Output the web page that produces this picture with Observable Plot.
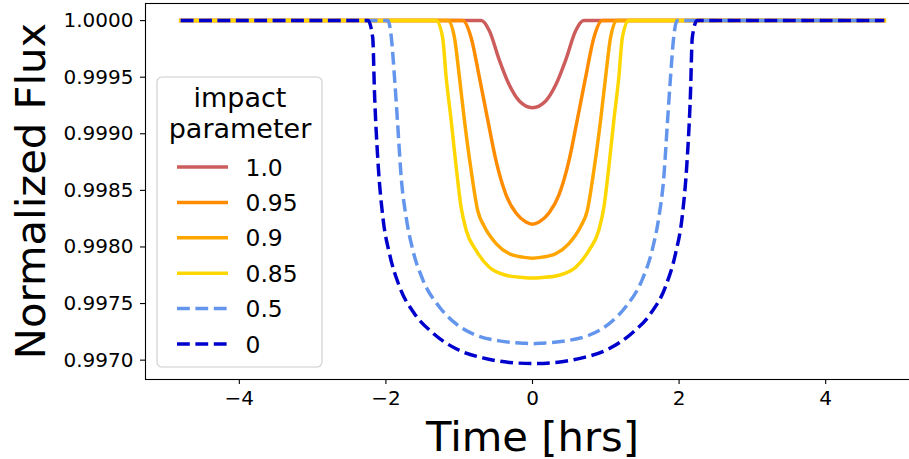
<!DOCTYPE html>
<html>
<head>
<meta charset="utf-8">
<script src="https://cdn.jsdelivr.net/npm/d3@7"></script>
<script src="https://cdn.jsdelivr.net/npm/@observablehq/plot@0.6"></script>
<style>
  html, body { margin: 0; padding: 0; background: #fff; overflow: hidden; }
  #wrap { position: relative; width: 909px; height: 459px; overflow: hidden; }
  #wrap svg { display: block; max-width: none !important; }
</style>
</head>
<body>
<div id="wrap"></div>
<script>
// ---- data ----
const seriesLabels = ["1.0", "0.95", "0.9", "0.85", "0.5", "0"];
const seriesColors = ["#CD5C5C", "#FF8C00", "#FFA500", "#FFD700", "#6495ED", "#0000CD"];
const seriesDashed = [false, false, false, false, true, true];

const b10_t = [-4.8, -0.70, -0.589, -0.452, -0.316, -0.180, 0, 0.180, 0.316, 0.452, 0.589, 0.70, 4.8];
const b10_f = [1, 1, 0.99991, 0.99965, 0.99943, 0.99929, 0.99923, 0.99929, 0.99943, 0.99965, 0.99991, 1, 1];

const b095_t = [-4.8, -0.951, -0.838, -0.725, -0.610, -0.497, -0.361, -0.225, -0.089, 0, 0.089, 0.225, 0.361, 0.497, 0.610, 0.725, 0.838, 0.951, 4.8];
const b095_f = [1, 1, 0.99985, 0.99950, 0.99912, 0.99876, 0.99846, 0.99830, 0.99822, 0.99820, 0.99822, 0.99830, 0.99846, 0.99876, 0.99912, 0.99950, 0.99985, 1, 1];

const b09_t = [-4.8, -1.155, -1.065, -0.997, -0.929, -0.838, -0.747, -0.657, -0.497, -0.316, -0.134, 0, 0.134, 0.316, 0.497, 0.657, 0.747, 0.838, 0.929, 0.997, 1.065, 1.155, 4.8];
const b09_f = [1, 1, 0.99985, 0.99950, 0.99912, 0.99868, 0.99832, 0.99818, 0.99803, 0.99794, 0.99791, 0.99790, 0.99791, 0.99794, 0.99803, 0.99818, 0.99832, 0.99868, 0.99912, 0.99950, 0.99985, 1, 1];

const b085_t = [-4.8, -1.315, -1.226, -1.178, -1.110, -1.042, -0.974, -0.906, -0.770, -0.589, -0.361, -0.134, 0, 0.134, 0.361, 0.589, 0.770, 0.906, 0.974, 1.042, 1.110, 1.178, 1.226, 1.315, 4.8];
const b085_f = [1, 1, 0.99985, 0.99950, 0.99912, 0.99871, 0.99835, 0.99815, 0.99797, 0.99782, 0.99775, 0.99773, 0.997725, 0.99773, 0.99775, 0.99782, 0.99797, 0.99815, 0.99835, 0.99871, 0.99912, 0.99950, 0.99985, 1, 1];

const b05_t = [-4.8, -1.973, -1.926, -1.883, -1.837, -1.792, -1.723, -1.632, -1.496, -1.270, -1.042, -0.770, -0.452, -0.134, 0, 0.134, 0.452, 0.770, 1.042, 1.270, 1.496, 1.632, 1.723, 1.792, 1.837, 1.883, 1.926, 1.973, 4.8];
const b05_f = [1, 1, 0.99985, 0.99950, 0.99906, 0.99862, 0.99826, 0.99797, 0.99771, 0.99747, 0.99732, 0.99722, 0.99717, 0.99715, 0.997145, 0.99715, 0.99717, 0.99722, 0.99732, 0.99747, 0.99771, 0.99797, 0.99826, 0.99862, 0.99906, 0.99950, 0.99985, 1, 1];

const b0_t = [-4.8, -2.245, -2.180, -2.155, -2.109, -2.041, -1.951, -1.815, -1.610, -1.360, -1.042, -0.678, -0.316, 0, 0.316, 0.678, 1.042, 1.360, 1.610, 1.815, 1.951, 2.041, 2.109, 2.155, 2.180, 2.245, 4.8];
const b0_f = [1, 1, 0.99985, 0.99935, 0.99876, 0.99826, 0.99794, 0.99765, 0.99741, 0.99724, 0.99710, 0.99702, 0.99698, 0.99697, 0.99698, 0.99702, 0.99710, 0.99724, 0.99741, 0.99765, 0.99794, 0.99826, 0.99876, 0.99935, 0.99985, 1, 1];

const xTicks = [-4, -2, 0, 2, 4];
const yTicks = [0.9970, 0.9975, 0.9980, 0.9985, 0.9990, 0.9995, 1.0000];
const xLabel = "Time [hrs]";
const yLabel = "Normalized Flux";
const legendTitle = ["impact", "parameter"];

// ---- build ----
const allT = [b10_t, b095_t, b09_t, b085_t, b05_t, b0_t];
const allF = [b10_f, b095_f, b09_f, b085_f, b05_f, b0_f];
const series = allT.map((ts, k) => ts.map((t, i) => ({t, f: allF[k][i]})));

const LW = 3.47;
const lineMarks = series.map((data, k) => Plot.line(data, {
  x: "t", y: "f", curve: "monotone-x",
  stroke: seriesColors[k], strokeWidth: LW,
  strokeDasharray: seriesDashed[k] ? "12.8,5.6" : null,
  strokeLinecap: seriesDashed[k] ? "butt" : "square",
  strokeLinejoin: "round"
}));

const chart = Plot.plot({
  width: 920,
  height: 459,
  marginLeft: 145,
  marginRight: 1,
  marginTop: 3,
  marginBottom: 80,
  style: {fontFamily: "'DejaVu Sans', sans-serif", fontSize: "20px", color: "#000", background: "#fff", overflow: "visible"},
  x: {domain: [-5.28, 5.28]},
  y: {domain: [0.996829, 1.000151]},
  marks: [
    ...lineMarks,
    Plot.frame({stroke: "#000", strokeWidth: 1.1}),
    Plot.axisX({ticks: xTicks, tickFormat: d3.format("d"), tickSize: 5, tickPadding: 6, label: null, fontSize: 20, strokeWidth: 1.1}),
    Plot.axisY({ticks: yTicks, tickFormat: d3.format(".4f"), tickSize: 5, tickPadding: 7, label: null, fontSize: 20, strokeWidth: 1.1}),
    Plot.text([xLabel], {frameAnchor: "bottom", dy: 71, lineAnchor: "bottom", fontSize: 41.7, text: d => d})
  ]
});
// rotated y-axis title (real SVG text)
d3.select(chart).append("text")
  .attr("transform", "translate(45,191) rotate(-90)")
  .attr("text-anchor", "middle")
  .attr("font-size", 41.7)
  .attr("font-family", "'DejaVu Sans', sans-serif")
  .attr("fill", "#000")
  .text(yLabel);
document.getElementById("wrap").appendChild(chart);

// ---- legend overlay ----
const lg = d3.create("svg")
  .attr("width", 168).attr("height", 293)
  .style("position", "absolute").style("left", "156px").style("top", "76px")
  .style("font-family", "'DejaVu Sans', sans-serif");
lg.append("rect").attr("x", 1).attr("y", 1).attr("width", 165).attr("height", 290)
  .attr("rx", 5).attr("fill", "#fff").attr("fill-opacity", 0.8)
  .attr("stroke", "#cccccc").attr("stroke-width", 1.1);
legendTitle.forEach((s, i) => {
  lg.append("text").attr("x", 84).attr("y", 31.3 + i * 31).attr("text-anchor", "middle")
    .attr("font-size", 27).attr("fill", "#000").text(s);
});
seriesLabels.forEach((s, k) => {
  const cy = 91 + k * 35.4;
  lg.append("line").attr("x1", 21).attr("x2", 72).attr("y1", cy).attr("y2", cy)
    .attr("stroke", seriesColors[k]).attr("stroke-width", LW)
    .attr("stroke-dasharray", seriesDashed[k] ? "12.8,5.6" : null);
  lg.append("text").attr("x", 89.5).attr("y", cy + 8.5).attr("font-size", 23.4)
    .attr("fill", "#000").text(s);
});
document.getElementById("wrap").appendChild(lg.node());
</script>
</body>
</html>
